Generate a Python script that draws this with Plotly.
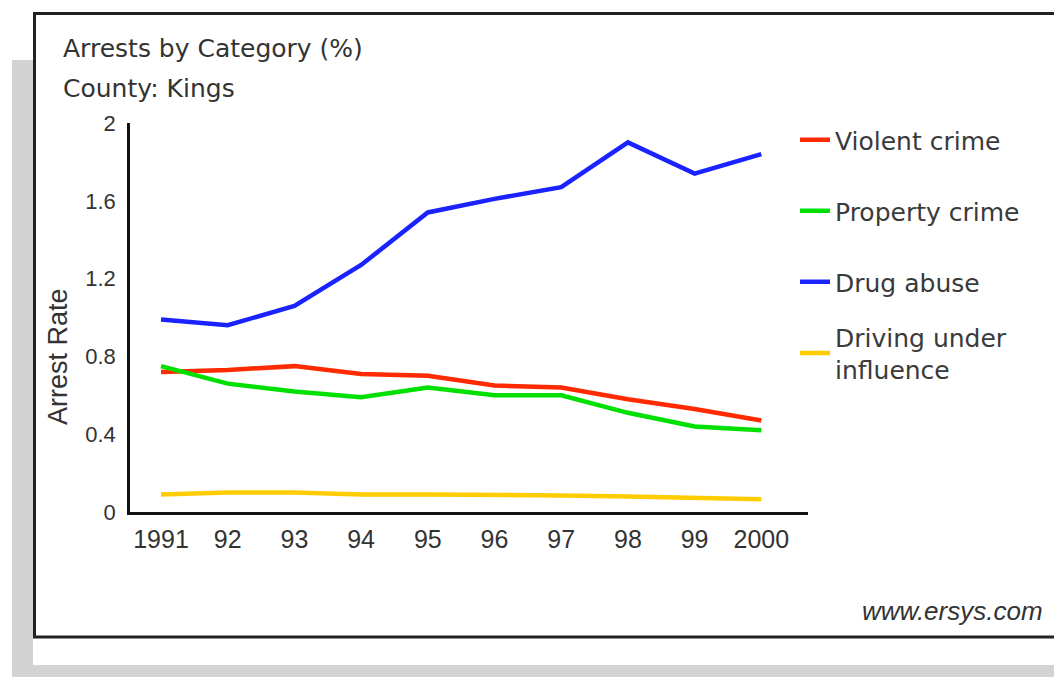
import plotly.graph_objects as go

# ---- data ----
years = ["1991", "92", "93", "94", "95", "96", "97", "98", "99", "2000"]
violent_crime = [0.72, 0.73, 0.75, 0.71, 0.70, 0.65, 0.64, 0.58, 0.53, 0.47]
property_crime = [0.75, 0.66, 0.62, 0.59, 0.64, 0.60, 0.60, 0.51, 0.44, 0.42]
drug_abuse = [0.99, 0.96, 1.06, 1.27, 1.54, 1.61, 1.67, 1.90, 1.74, 1.84]
dui = [0.09, 0.10, 0.10, 0.09, 0.09, 0.09, 0.085, 0.08, 0.075, 0.065]
series_names = ["Violent crime", "Property crime", "Drug abuse", "Driving under<br>influence"]
series_colors = ["#ff2a00", "#00e000", "#1a23ff", "#ffcc00"]
y_ticks = [0, 0.4, 0.8, 1.2, 1.6, 2]
y_ticktext = ["0", "0.4", "0.8", "1.2", "1.6", "2"]

# ---- layout geometry (pixels; page body adds an 8px offset) ----
OFF = 8
W, H = 1062 - OFF, 677 - OFF
L = 130 - OFF
T = 123 - OFF
R = W - (808 - OFF)
B = H - (512 - OFF)
PW = W - L - R
PH = H - T - B


def px(x):
    """reference-screen x pixel -> paper coordinate"""
    return (x - OFF - L) / PW


def py(y):
    """reference-screen y pixel -> paper coordinate"""
    return (H - B - (y - OFF)) / PH


xs = list(range(len(years)))
fig = go.Figure()
all_series = [violent_crime, property_crime, drug_abuse, dui]
legend_centers = [140, 211, 282, 353]
legend_keys = ["legend", "legend2", "legend3", "legend4"]
for name, vals, col, lk in zip(series_names, all_series, series_colors, legend_keys):
    fig.add_trace(go.Scatter(x=xs, y=vals, mode="lines", name=name,
                             line=dict(color=col, width=4.5), legend=lk))

legend_font = dict(family="DejaVu Sans", size=25, color="#3a3a3a")
layout_legends = {}
for lk, cy in zip(legend_keys, legend_centers):
    layout_legends[lk] = dict(x=px(795), xanchor="left", y=py(cy), yanchor="middle",
                              bgcolor="rgba(0,0,0,0)", font=legend_font,
                              borderwidth=0, itemwidth=30)

fig.update_layout(
    width=W, height=H,
    margin=dict(l=L, r=R, t=T, b=B, pad=0),
    paper_bgcolor="white",
    plot_bgcolor="rgba(0,0,0,0)",
    showlegend=True,
    **layout_legends,
)

fig.update_xaxes(range=[-0.465, 9.70], tickmode="array", tickvals=xs, ticktext=years,
                 showline=True, linecolor="#111", linewidth=2.5, showgrid=False, zeroline=False,
                 ticks="", ticklabelstandoff=3,
                 tickfont=dict(family="Liberation Sans", size=25, color="#333"))
fig.update_yaxes(range=[0, 2], tickmode="array", tickvals=y_ticks, ticktext=y_ticktext,
                 showline=True, linecolor="#111", linewidth=2.5, showgrid=False, zeroline=False,
                 ticks="", ticklabelstandoff=7,
                 tickfont=dict(family="Liberation Sans", size=22, color="#333"))

# background frame: shadow, white panel, border
fig.add_shape(type="rect", xref="paper", yref="paper", x0=px(12), x1=px(1055), y0=py(60), y1=py(690),
              fillcolor="#d3d3d3", line=dict(width=0), layer="below")
fig.add_shape(type="rect", xref="paper", yref="paper", x0=px(33), x1=px(1080), y0=py(0), y1=py(665),
              fillcolor="white", line=dict(width=0), layer="below")
fig.add_shape(type="rect", xref="paper", yref="paper", x0=px(34.5), x1=px(1085), y0=py(13.5), y1=py(637),
              fillcolor="rgba(0,0,0,0)", line=dict(color="#222", width=3), layer="below")

title_font = dict(family="DejaVu Sans", size=25, color="#333")
fig.add_annotation(text="Arrests by Category (%)", xref="paper", yref="paper",
                   x=px(61), y=py(48), xanchor="left", yanchor="middle", showarrow=False, font=title_font)
fig.add_annotation(text="County: Kings", xref="paper", yref="paper",
                   x=px(61), y=py(88), xanchor="left", yanchor="middle", showarrow=False, font=title_font)
fig.add_annotation(text="Arrest Rate", xref="paper", yref="paper", textangle=-90,
                   x=px(58), y=py(357), xanchor="center", yanchor="middle", showarrow=False,
                   font=dict(family="Liberation Sans", size=27, color="#333"))
fig.add_annotation(text="<i>www.ersys.com</i>", xref="paper", yref="paper",
                   x=px(1045), y=py(611), xanchor="right", yanchor="middle", showarrow=False,
                   font=dict(family="Liberation Sans", size=26, color="#333"))

fig.write_html("out.html")
